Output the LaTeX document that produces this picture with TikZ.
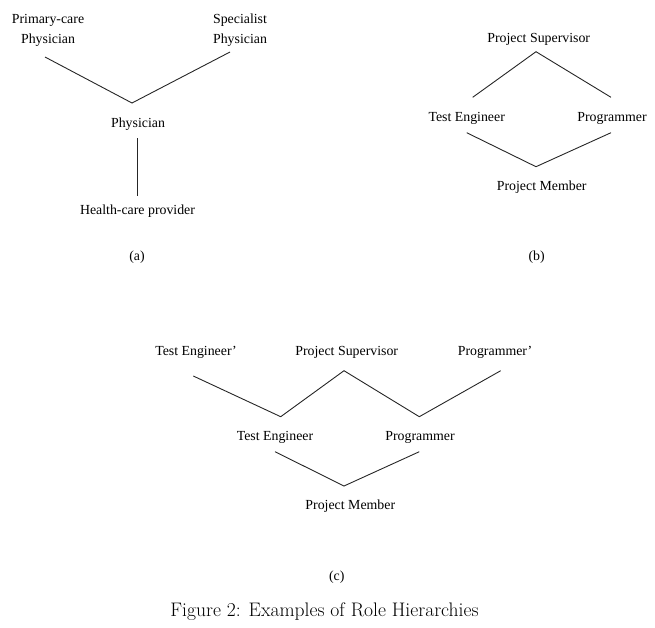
\documentclass[tikz,border=0pt]{standalone}
\usepackage{fontspec}
\newfontfamily\tms[Ligatures=TeX]{Liberation Serif}
\begin{document}
\begin{tikzpicture}[x=1pt,y=-1pt,
  lbl/.style={font=\tms\fontsize{13.85}{20}\selectfont, inner sep=0pt, anchor=base, align=center},
  edge/.style={line width=0.9pt, black!85, line join=miter},
  captext/.style={font=\fontsize{19.6}{22}\selectfont, inner sep=0pt, anchor=base}]
\useasboundingbox (0,0) rectangle (655,627);
% ---------- (a)
\node[lbl] (pc) at (48,43.3) {Primary-care\\Physician};
\node[lbl] (sp) at (240,43.3) {Specialist\\Physician};
\node[lbl] (ph) at (138,127.7) {Physician};
\node[lbl] (hc) at (137.5,214) {Health-care provider};
\node[lbl] (la) at (137,260) {(a)};
\coordinate (a1) at (45,57);
\coordinate (a2) at (132,103);
\coordinate (a3) at (230,52);
\coordinate (a4) at (137,138);
\coordinate (a5) at (137,196);
\draw[edge] (a1) -- (a2) -- (a3);
\draw[edge] (a4) -- (a5);
% ---------- (b)
\node[lbl] (ps) at (538.7,42.7) {Project Supervisor};
\node[lbl] (te) at (466.7,121.7) {Test Engineer};
\node[lbl] (pr) at (612,121.7) {Programmer};
\node[lbl] (pm) at (541.7,190) {Project Member};
\node[lbl] (lb) at (536.7,260) {(b)};
\coordinate (b1) at (472.7,97.3);
\coordinate (b2) at (536,51.7);
\coordinate (b3) at (611,97.3);
\coordinate (b4) at (466.7,132.7);
\coordinate (b5) at (536,166.7);
\coordinate (b6) at (611,132.7);
\draw[edge] (b1) -- (b2) -- (b3);
\draw[edge] (b4) -- (b5) -- (b6);
% ---------- (c)
\node[lbl] (tep) at (196,355) {Test Engineer’};
\node[lbl] (psc) at (346.7,355) {Project Supervisor};
\node[lbl] (prp) at (495,355) {Programmer’};
\node[lbl] (tec) at (275,440) {Test Engineer};
\node[lbl] (prc) at (420,440) {Programmer};
\node[lbl] (pmc) at (350.3,509.3) {Project Member};
\node[lbl] (lc) at (336.7,580) {(c)};
\coordinate (c1) at (193.3,376);
\coordinate (c2) at (280.7,416.7);
\coordinate (c3) at (344,370.7);
\coordinate (c4) at (419.3,416.7);
\coordinate (c5) at (500.7,370.7);
\coordinate (c6) at (275,451.7);
\coordinate (c7) at (344,486);
\coordinate (c8) at (419.3,451.7);
\draw[edge] (c1) -- (c2) -- (c3) -- (c4) -- (c5);
\draw[edge] (c6) -- (c7) -- (c8);
% ---------- caption
\node[captext] (caption) at (324.5,616) {Figure 2: Examples of Role Hierarchies};
\end{tikzpicture}
\end{document}
